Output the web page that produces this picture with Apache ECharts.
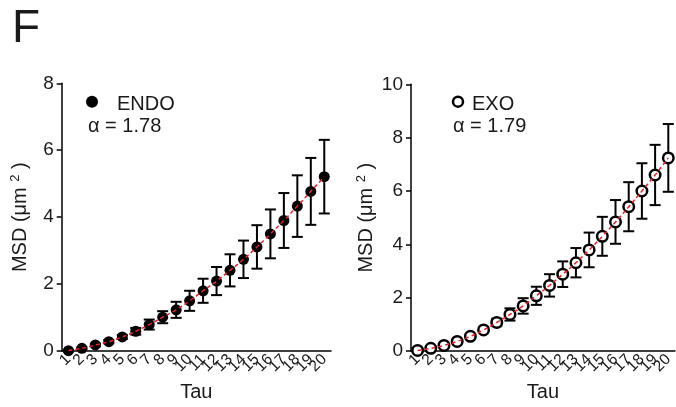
<!DOCTYPE html>
<html>
<head>
<meta charset="utf-8">
<script src="https://cdn.jsdelivr.net/npm/echarts@6/dist/echarts.min.js"></script>
<style>
html,body{margin:0;padding:0;background:#fff;}
#c{width:676px;height:407px;}
</style>
</head>
<body>
<div id="c"></div>
<script>
const tau = ['1','2','3','4','5','6','7','8','9','10','11','12','13','14','15','16','17','18','19','20'];
const endoMean = [0.01,0.08,0.18,0.28,0.42,0.59,0.79,1.01,1.23,1.50,1.80,2.09,2.41,2.74,3.11,3.50,3.90,4.33,4.77,5.21];
const endoErr  = [0.02,0.03,0.04,0.05,0.06,0.10,0.15,0.18,0.24,0.30,0.36,0.42,0.48,0.56,0.65,0.73,0.82,0.92,1.00,1.10];
const exoMean  = [0.02,0.10,0.21,0.36,0.55,0.79,1.07,1.37,1.69,2.07,2.46,2.88,3.31,3.79,4.30,4.84,5.41,6.00,6.60,7.24];
const exoErr   = [0.02,0.03,0.04,0.05,0.06,0.08,0.14,0.23,0.29,0.34,0.42,0.48,0.55,0.65,0.73,0.82,0.92,1.04,1.13,1.27];
const endoLabel = 'ENDO';
const exoLabel = 'EXO';
const endoAlpha = 'α = 1.78';
const exoAlpha = 'α = 1.79';
const panelLetter = 'F';

const FONT = "'Liberation Sans', Arial, sans-serif";
const TXT = '#1a1a1a';

function errData(mean, err){ return mean.map((m,i)=>[i, m-err[i], m+err[i]]); }

function renderErr(params, api){
  const x = api.value(0);
  const lo = api.coord([x, api.value(1)]);
  const hi = api.coord([x, api.value(2)]);
  const w = 5.5;
  const st = {stroke:'#000', lineWidth:2};
  return {type:'group', children:[
    {type:'line', shape:{x1:lo[0],y1:lo[1],x2:hi[0],y2:hi[1]}, style:st},
    {type:'line', shape:{x1:hi[0]-w,y1:hi[1],x2:hi[0]+w,y2:hi[1]}, style:st},
    {type:'line', shape:{x1:lo[0]-w,y1:lo[1],x2:lo[0]+w,y2:lo[1]}, style:st}
  ]};
}

function xAx(gi){
  return {
    type:'category', gridIndex:gi, data:tau, boundaryGap:true,
    name:'Tau', nameLocation:'middle', nameGap:31,
    nameTextStyle:{fontFamily:FONT, fontSize:20, color:TXT},
    axisLine:{lineStyle:{color:'#000', width:1.5}},
    axisTick:{alignWithLabel:true, length:5, lineStyle:{color:'#000', width:1.5}},
    axisLabel:{interval:0, rotate:45, fontFamily:FONT, fontSize:15.5, color:TXT, margin:6},
    splitLine:{show:false}
  };
}
function yAx(gi, max){
  return {
    type:'value', gridIndex:gi, min:0, max:max, interval:2,
    name:'{a|MSD (μm }{s|2}{a| )}', nameLocation:'middle', nameGap:29,
    nameTextStyle:{fontFamily:FONT, color:TXT,
      rich:{a:{fontFamily:FONT, fontSize:20, color:TXT, lineHeight:24},
            s:{fontFamily:FONT, fontSize:13, color:TXT, lineHeight:24, verticalAlign:'top', padding:[0,0,10,0]}}},
    axisLine:{show:true, lineStyle:{color:'#000', width:1.5}},
    axisTick:{show:true, length:5, lineStyle:{color:'#000', width:1.5}},
    axisLabel:{fontFamily:FONT, fontSize:19, color:TXT, margin:8},
    splitLine:{show:false}
  };
}

const chart = echarts.init(document.getElementById('c'), null, {renderer:'canvas'});
chart.setOption({
  animation:false,
  backgroundColor:'#fff',
  grid:[
    {left:61.7, top:83.3, width:269.3, height:270, containLabel:false},
    {left:411, top:84.3, width:267, height:270.7, containLabel:false}
  ],
  xAxis:[xAx(0), xAx(1)],
  yAxis:[yAx(0,8), yAx(1,10)],
  graphic:[
    {type:'text', left:12, top:6, style:{text:panelLetter, font:'46px '+FONT, fill:TXT}},
    {type:'circle', shape:{cx:92, cy:101.7, r:6}, style:{fill:'#000'}},
    {type:'text', x:117, y:104, style:{text:endoLabel, font:'20px '+FONT, fill:TXT, textVerticalAlign:'middle'}},
    {type:'text', x:88, y:126, style:{text:endoAlpha, font:'20px '+FONT, fill:TXT, textVerticalAlign:'middle'}},
    {type:'circle', shape:{cx:458, cy:101.7, r:5}, style:{fill:'#fff', stroke:'#000', lineWidth:2.5}},
    {type:'text', x:472, y:104, style:{text:exoLabel, font:'20px '+FONT, fill:TXT, textVerticalAlign:'middle'}},
    {type:'text', x:453, y:126, style:{text:exoAlpha, font:'20px '+FONT, fill:TXT, textVerticalAlign:'middle'}}
  ],
  series:[
    {type:'custom', xAxisIndex:0, yAxisIndex:0, renderItem:renderErr, data:errData(endoMean,endoErr), encode:{x:0,y:[1,2]}, z:1, silent:true},
    {type:'scatter', xAxisIndex:0, yAxisIndex:0, data:endoMean, symbol:'circle', symbolSize:11, itemStyle:{color:'#000', opacity:1}, z:2},
    {type:'line', xAxisIndex:0, yAxisIndex:0, data:endoMean, smooth:true, showSymbol:false, lineStyle:{color:'#e8232a', width:1.5, type:[4,3]}, z:3},
    {type:'custom', xAxisIndex:1, yAxisIndex:1, renderItem:renderErr, data:errData(exoMean,exoErr), encode:{x:0,y:[1,2]}, z:1, silent:true},
    {type:'scatter', xAxisIndex:1, yAxisIndex:1, data:exoMean, symbol:'circle', symbolSize:10.5, itemStyle:{color:'#fff', borderColor:'#000', borderWidth:2.5, opacity:1}, z:2},
    {type:'line', xAxisIndex:1, yAxisIndex:1, data:exoMean, smooth:true, showSymbol:false, lineStyle:{color:'#e8232a', width:1.5, type:[4,3]}, z:3}
  ]
});
</script>
</body>
</html>
